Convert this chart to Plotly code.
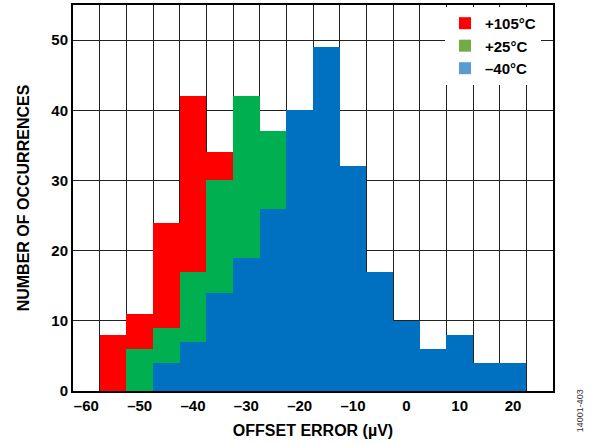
import plotly.graph_objects as go

# Bin centres (µV), bin width 5
bins = [-55, -50, -45, -40, -35, -30, -25, -20, -15, -10, -5, 0, 5, 10, 15, 20]

# Visible counts per temperature (None = hidden behind other series)
t105 = [8, 11, 24, 42, 34, None, None, None, None, None, None, None, None, None, None, None]
t25 = [None, 6, 9, 17, 30, 42, 37, None, None, None, None, None, None, None, None, None]
tm40 = [None, None, 4, 7, 14, 19, 26, 40, 49, 32, 17, 10, 6, 8, 4, 4]

names = ["+105°C", "+25°C", "–40°C"]
bar_colors = ["#FF0000", "#00B050", "#0070C0"]
legend_colors = ["#FF0000", "#70AD47", "#5B9BD5"]

xtick_vals = [-60, -50, -40, -30, -20, -10, 0, 10, 20]
xtick_text = ["–60", "–50", "–40", "–30", "–20", "–10", "0", "10", "20"]
ytick_vals = [0, 10, 20, 30, 40, 50]

FONT = "Liberation Sans, Arial, sans-serif"

fig = go.Figure()
for vals, col in zip([t105, t25, tm40], bar_colors):
    fig.add_trace(go.Bar(x=bins, y=vals, width=5, marker=dict(color=col, line=dict(width=0)),
                         showlegend=False, hoverinfo="skip"))
for name, col in zip(names, legend_colors):
    fig.add_trace(go.Bar(x=[None], y=[None], name=name, marker=dict(color=col, line=dict(width=0))))

fig.update_layout(
    width=595, height=444,
    margin=dict(l=73, r=42, t=5, b=53),
    paper_bgcolor="white", plot_bgcolor="white",
    barmode="overlay", bargap=0,
    font=dict(family=FONT, size=15, color="black", weight="bold"),
    showlegend=True,
    legend=dict(x=0.775, y=0.995, xanchor="left", yanchor="top", bgcolor="white",
                borderwidth=0, font=dict(size=15, weight="bold"),
                itemwidth=30, tracegroupgap=0),
    xaxis=dict(range=[-62.5, 27.5], tickvals=xtick_vals, ticktext=xtick_text,
               showgrid=False, zeroline=False, showline=True, linecolor="black",
               linewidth=2, mirror=True, ticks="", automargin=False,
               minor=dict(tick0=-57.5, dtick=5, showgrid=True, gridcolor="#222", gridwidth=1),
               title=dict(text="OFFSET ERROR (µV)", font=dict(size=16, weight="bold"), standoff=12)),
    yaxis=dict(range=[0, 55], tickvals=ytick_vals, showgrid=True, gridcolor="#222",
               gridwidth=1, zeroline=False, showline=True, linecolor="black",
               linewidth=2, mirror=True, ticks="", automargin=False,
               title=dict(text="NUMBER OF OCCURRENCES", font=dict(size=16, weight="bold"), standoff=18)),
)
fig.add_annotation(text="14001-403", xref="paper", yref="paper", x=1.056, y=-0.05,
                   xanchor="center", yanchor="middle", textangle=-90, showarrow=False,
                   font=dict(size=9, weight="normal", color="#333"))
fig.write_html("out.html", config={"displayModeBar": False},
               post_script="document.body.style.margin='0';")
